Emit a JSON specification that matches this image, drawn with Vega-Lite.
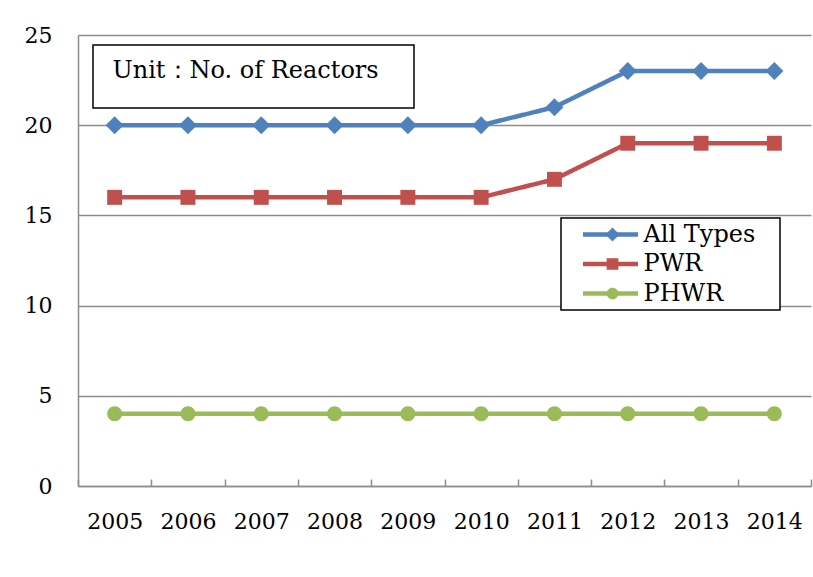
{
  "$schema": "https://vega.github.io/schema/vega-lite/v6.json",
  "width": 733,
  "height": 451,
  "autosize": {"type": "none"},
  "padding": {"left": 78, "top": 35, "right": 2, "bottom": 91},
  "background": "white",
  "config": {"view": {"stroke": null}, "font": "DejaVu Serif"},
  "data": {
    "values": [
      {"year": "2005", "series": "All Types", "value": 20, "unit": "Unit：No. of Reactors"},
      {"year": "2006", "series": "All Types", "value": 20, "unit": "Unit：No. of Reactors"},
      {"year": "2007", "series": "All Types", "value": 20, "unit": "Unit：No. of Reactors"},
      {"year": "2008", "series": "All Types", "value": 20, "unit": "Unit：No. of Reactors"},
      {"year": "2009", "series": "All Types", "value": 20, "unit": "Unit：No. of Reactors"},
      {"year": "2010", "series": "All Types", "value": 20, "unit": "Unit：No. of Reactors"},
      {"year": "2011", "series": "All Types", "value": 21, "unit": "Unit：No. of Reactors"},
      {"year": "2012", "series": "All Types", "value": 23, "unit": "Unit：No. of Reactors"},
      {"year": "2013", "series": "All Types", "value": 23, "unit": "Unit：No. of Reactors"},
      {"year": "2014", "series": "All Types", "value": 23, "unit": "Unit：No. of Reactors"},
      {"year": "2005", "series": "PWR", "value": 16, "unit": "Unit：No. of Reactors"},
      {"year": "2006", "series": "PWR", "value": 16, "unit": "Unit：No. of Reactors"},
      {"year": "2007", "series": "PWR", "value": 16, "unit": "Unit：No. of Reactors"},
      {"year": "2008", "series": "PWR", "value": 16, "unit": "Unit：No. of Reactors"},
      {"year": "2009", "series": "PWR", "value": 16, "unit": "Unit：No. of Reactors"},
      {"year": "2010", "series": "PWR", "value": 16, "unit": "Unit：No. of Reactors"},
      {"year": "2011", "series": "PWR", "value": 17, "unit": "Unit：No. of Reactors"},
      {"year": "2012", "series": "PWR", "value": 19, "unit": "Unit：No. of Reactors"},
      {"year": "2013", "series": "PWR", "value": 19, "unit": "Unit：No. of Reactors"},
      {"year": "2014", "series": "PWR", "value": 19, "unit": "Unit：No. of Reactors"},
      {"year": "2005", "series": "PHWR", "value": 4, "unit": "Unit：No. of Reactors"},
      {"year": "2006", "series": "PHWR", "value": 4, "unit": "Unit：No. of Reactors"},
      {"year": "2007", "series": "PHWR", "value": 4, "unit": "Unit：No. of Reactors"},
      {"year": "2008", "series": "PHWR", "value": 4, "unit": "Unit：No. of Reactors"},
      {"year": "2009", "series": "PHWR", "value": 4, "unit": "Unit：No. of Reactors"},
      {"year": "2010", "series": "PHWR", "value": 4, "unit": "Unit：No. of Reactors"},
      {"year": "2011", "series": "PHWR", "value": 4, "unit": "Unit：No. of Reactors"},
      {"year": "2012", "series": "PHWR", "value": 4, "unit": "Unit：No. of Reactors"},
      {"year": "2013", "series": "PHWR", "value": 4, "unit": "Unit：No. of Reactors"},
      {"year": "2014", "series": "PHWR", "value": 4, "unit": "Unit：No. of Reactors"}
    ]
  },
  "resolve": {"legend": {"color": "independent", "shape": "independent"}},
  "layer": [
    {
      "mark": {"type": "line", "strokeWidth": 4.5},
      "encoding": {
        "x": {
          "field": "year",
          "type": "ordinal",
          "scale": {"type": "band", "paddingInner": 0, "paddingOuter": 0},
          "axis": {
            "title": null,
            "labelAngle": 0,
            "labelFontSize": 22,
            "labelFont": "DejaVu Serif",
            "labelColor": "black",
            "domainColor": "#8c8c8c",
            "domainWidth": 1.5,
            "tickColor": "#8c8c8c",
            "tickWidth": 1.5,
            "tickSize": -7,
            "tickBand": "extent",
            "labelPadding": 32,
            "grid": false
          }
        },
        "y": {
          "field": "value",
          "type": "quantitative",
          "scale": {"domain": [0, 25], "nice": false},
          "axis": {
            "title": null,
            "values": [0, 5, 10, 15, 20, 25],
            "grid": true,
            "gridColor": "#8c8c8c",
            "gridWidth": 1.5,
            "ticks": false,
            "domainColor": "#8c8c8c",
            "domainWidth": 1.5,
            "labelFontSize": 22,
            "labelFont": "DejaVu Serif",
            "labelColor": "black",
            "labelPadding": 26
          }
        },
        "color": {
          "field": "series",
          "type": "nominal",
          "scale": {"domain": ["All Types", "PWR", "PHWR"], "range": ["#4F81BD", "#C0504D", "#9BBB59"]},
          "legend": {
            "title": null,
            "orient": "none",
            "legendX": 483,
            "legendY": 183,
            "padding": 4.5,
            "strokeColor": "black",
            "fillColor": "white",
            "labelFontSize": 24,
            "labelFont": "DejaVu Serif",
            "labelColor": "black",
            "symbolType": "stroke",
            "symbolSize": 3025,
            "symbolStrokeWidth": 4.5,
            "symbolOffset": 15,
            "labelOffset": 3,
            "labelLimit": 400,
            "clipHeight": 24,
            "rowPadding": 5.5,
            "encode": {
              "legend": {"update": {"strokeWidth": {"value": 1.5}}},
              "entries": {"update": {"width": {"value": 210}}}
            }
          }
        },
        "strokeDash": {
          "field": "unit",
          "type": "nominal",
          "scale": {"range": [[1, 0]]},
          "legend": {
            "title": null,
            "orient": "none",
            "legendX": 15,
            "legendY": 10,
            "padding": 13.5,
            "strokeColor": "black",
            "fillColor": "white",
            "labelFontSize": 24,
            "labelFont": "DejaVu Serif",
            "labelColor": "black",
            "labelOffset": -18,
            "labelLimit": 500,
            "symbolType": "circle",
            "symbolSize": 1,
            "symbolOpacity": 0,
            "clipHeight": 36,
            "encode": {
              "legend": {"update": {"strokeWidth": {"value": 1.5}}},
              "entries": {"update": {"width": {"value": 294}}},
              "labels": {"update": {"dy": {"value": -6}}}
            }
          }
        }
      }
    },
    {
      "mark": {"type": "point", "filled": true, "opacity": 1, "size": 324},
      "encoding": {
        "x": {"field": "year", "type": "ordinal"},
        "y": {"field": "value", "type": "quantitative"},
        "color": {
          "field": "series",
          "type": "nominal",
          "legend": {
            "title": null,
            "orient": "none",
            "legendX": 483,
            "legendY": 183,
            "padding": 4.5,
            "labelFontSize": 24,
            "labelExpr": "''",
            "symbolSize": 200,
            "symbolStrokeWidth": 0,
            "symbolOffset": 35,
            "labelOffset": 0,
            "clipHeight": 24,
            "rowPadding": 5.5
          }
        },
        "shape": {
          "field": "series",
          "type": "nominal",
          "scale": {
            "domain": ["All Types", "PWR", "PHWR"],
            "range": [
              "M0,-1L1,0L0,1L-1,0Z",
              "M-0.83,-0.83L0.83,-0.83L0.83,0.83L-0.83,0.83Z",
              "M0.83,0A0.83,0.83,0,1,1,-0.83,0A0.83,0.83,0,1,1,0.83,0Z"
            ]
          },
          "legend": {
            "title": null,
            "orient": "none",
            "legendX": 483,
            "legendY": 183,
            "padding": 4.5,
            "labelFontSize": 24,
            "labelExpr": "''",
            "symbolSize": 200,
            "symbolStrokeWidth": 0,
            "symbolOffset": 35,
            "labelOffset": 0,
            "clipHeight": 24,
            "rowPadding": 5.5
          }
        }
      }
    }
  ]
}
